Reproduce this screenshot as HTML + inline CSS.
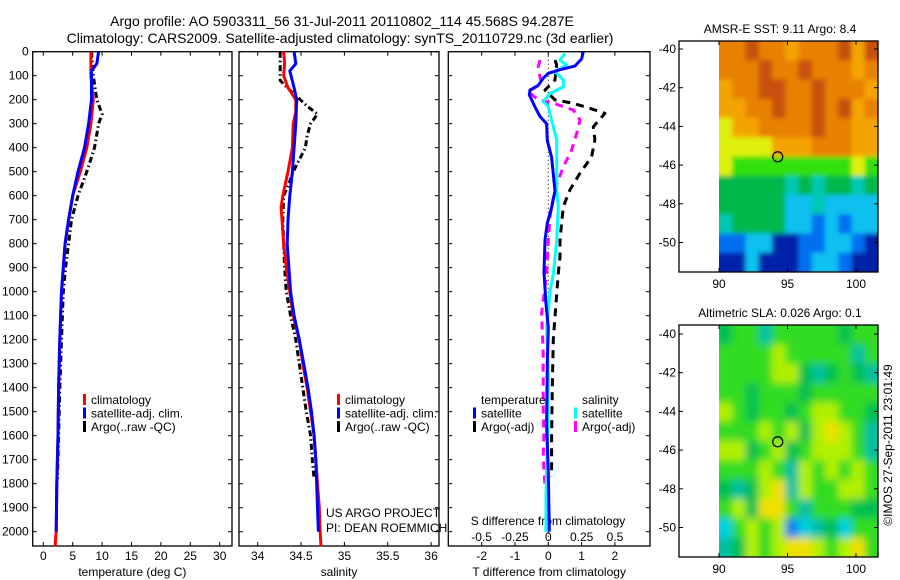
<!DOCTYPE html>
<html><head><meta charset="utf-8"><style>
html,body{margin:0;padding:0;background:#fff;}
svg{display:block;font-family:"Liberation Sans",sans-serif;}
text{fill:#000;}
</style></head><body>
<svg id="fig" width="900" height="580" viewBox="0 0 900 580" xmlns="http://www.w3.org/2000/svg">
<defs>
<filter id="blurS" x="-5%" y="-5%" width="110%" height="110%"><feGaussianBlur stdDeviation="2.5"/></filter>
<filter id="blurL" x="-5%" y="-5%" width="110%" height="110%"><feGaussianBlur stdDeviation="4"/></filter>
<clipPath id="clip-m1"><rect x="719" y="41" width="159" height="231"/></clipPath>
<clipPath id="clip-m2"><rect x="719" y="325" width="159" height="232"/></clipPath>
</defs>
<text x="342" y="26" font-size="14" text-anchor="middle">Argo profile: AO 5903311_56 31-Jul-2011 20110802_114 45.568S 94.287E</text>
<text x="340" y="43" font-size="14" text-anchor="middle">Climatology: CARS2009. Satellite-adjusted climatology: synTS_20110729.nc (3d earlier)</text>
<g id="g1"></g>
<g id="g2"></g>
<g id="g3"></g>
<g id="m1"></g>
<g id="m2"></g>
<text transform="translate(892,445) rotate(-90)" font-size="12" text-anchor="middle">©IMOS 27-Sep-2011 23:01:49</text>
</svg>
<script>
// ---- data ----
const tempClimDepth = [0,100,200,300,400,500,600,700,800,900,1000,1200,1400,1600,1800,2000,2060];
const tempClimVal   = [8.1,8.1,8.5,8.1,7.4,6.3,5.0,4.3,3.7,3.4,3.1,2.8,2.6,2.5,2.3,2.2,2.0];
const tempSatDepth  = [0,50,80,200,300,400,500,600,700,800,900,1000,1200,1400,1600,1800,2000];
const tempSatVal    = [9.4,9.1,8.2,8.2,7.7,7.0,5.9,5.0,4.3,3.7,3.4,3.1,2.8,2.6,2.5,2.3,2.2];
const tempArgoDepth = [0,100,200,260,300,400,500,600,700,800,900,1000,1200,1400,1600,1780];
const tempArgoVal   = [8.2,8.5,9.1,10.0,9.4,8.7,7.4,5.9,4.8,4.3,3.8,3.4,3.1,2.8,2.6,2.4];

const salClimDepth = [0,50,100,150,200,250,300,400,500,600,650,700,800,900,1000,1100,1200,1300,1400,1500,1600,1700,1800,1900,2000,2060];
const salClimVal   = [34.30,34.31,34.30,34.35,34.44,34.44,34.41,34.40,34.35,34.29,34.27,34.28,34.30,34.33,34.37,34.41,34.48,34.52,34.57,34.61,34.65,34.67,34.69,34.71,34.72,34.73];
const salSatDepth  = [0,50,80,150,200,300,400,500,600,700,800,900,1000,1100,1200,1300,1400,1500,1600,1700,1800,1900,2000];
const salSatVal    = [34.42,34.44,34.37,34.42,34.45,34.44,34.42,34.40,34.37,34.35,34.34,34.36,34.38,34.42,34.48,34.53,34.58,34.62,34.65,34.67,34.68,34.69,34.70];
const salArgoDepth = [0,100,120,150,200,230,260,300,350,400,450,500,550,600,700,800,900,1000,1100,1200,1300,1400,1500,1600,1700,1780];
const salArgoVal   = [34.26,34.26,34.26,34.34,34.49,34.58,34.69,34.61,34.57,34.55,34.48,34.41,34.36,34.30,34.29,34.30,34.31,34.33,34.38,34.44,34.48,34.52,34.56,34.61,34.63,34.65];

const dTSatDepth = [0,30,60,75,90,110,140,160,180,230,270,300,370,440,510,580,650,715,785,920,1050,1150,1300,1550,1750,2000];
const dTSatVal   = [1.05,1.0,0.8,0.35,0.0,-0.15,-0.3,-0.55,-0.57,-0.4,-0.25,-0.05,-0.03,0.1,0.15,0.2,0.1,-0.03,-0.1,-0.13,-0.07,0.0,-0.03,-0.05,0.0,0.03];
const dSSatDepth = [7,35,55,83,118,146,174,208,229,285,368,507,576,646,785,924,1000,1150,1350,1600,1850,2000];
const dSSatVal   = [0.125,0.088,0.138,0.05,0.113,0.113,0.013,-0.038,0.0,0.025,0.063,0.063,0.063,0.075,0.063,0.038,0.013,-0.012,0.0,-0.005,-0.017,-0.017];
const dTArgoDepth = [35,55,118,160,201,215,236,257,313,368,438,507,576,646,715,785,854,924,1050,1200,1400,1600,1770];
const dTArgoVal   = [0.2,0.25,0.2,-0.1,0.2,0.75,1.25,1.7,1.35,1.4,1.3,0.95,0.65,0.45,0.4,0.35,0.35,0.3,0.23,0.15,0.12,0.1,0.1];
const dSArgoDepth = [35,63,104,132,167,201,215,243,285,340,410,479,535,604,688,785,924,979,1090,1257,1465,1604,1688,1813];
const dSArgoVal   = [-0.063,-0.075,-0.063,-0.05,-0.15,-0.075,0.038,0.188,0.238,0.213,0.175,0.113,0.075,0.038,0.013,0.0,-0.013,-0.025,-0.05,-0.038,-0.038,-0.033,-0.038,-0.025];

const tempTicks = [0,5,10,15,20,25,30];
const salTicks = [34,34.5,35,35.5,36];
const dTTicks = [-2,-1,0,1,2];
const dSTicks = [-0.5,-0.25,0,0.25,0.5];
const depthTicks = [0,100,200,300,400,500,600,700,800,900,1000,1100,1200,1300,1400,1500,1600,1700,1800,1900,2000];
const latTicks = [-40,-42,-44,-46,-48,-50];
const lonTicks = [90,95,100];
const argoLon = 94.287, argoLat = -45.568;

const sstRows = [
"OODOOLOOODLD","OOODOODOOOLO","LOODDOODOOOL","LLOODOODODLO","YLLOOOODOOLL",
"YYYYLLLOOOLL","YGGGGGGGGGYG","gggggTgTggTg","gggggCCTCCCC","TggggCCBCBCC","BBCCNNBBCCBN","NNCNNNBCCBNN"];
const slaRows = [
"gGGTGGGGGgGG","GGGGYGGGGGTG","GGGGYYgTgGgT","GGgGGGgGGGGG","YGgGGgGYYGGg","GGGYGYgYOYGT",
"YYgGYgGYYYGT","GGGYGTYGYGYG","gTgYOTYGGYYG","GYgOOGTGGGgg","CGYGYBCTgCGG","TgYGYOOYGYOG"];

// ---- helpers ----
const NS="http://www.w3.org/2000/svg";
function mk(parent,tag,attrs){const e=document.createElementNS(NS,tag);for(const k in attrs)e.setAttribute(k,attrs[k]);parent.appendChild(e);return e;}
const yD = d => 51.7 + 0.24*d;
const PTOP=51.7, PBOT=546;

function panel(g,x0,x1,xs,ticks,fmt,showDepth,labelY,bottomLabel){
  const r=mk(g,'rect',{x:x0,y:PTOP,width:x1-x0,height:PBOT-PTOP,fill:'none',stroke:'#000','stroke-width':1.3});
  
  
  depthTicks.forEach(d=>{
    const y=yD(d);
    mk(g,'line',{x1:x0,x2:x0+4,y1:y,y2:y,stroke:'#000'});
    mk(g,'line',{x1:x1-4,x2:x1,y1:y,y2:y,stroke:'#000'});
    if(showDepth){const t=mk(g,'text',{x:x0-4,y:y+4,'font-size':12,'text-anchor':'end'});t.textContent=d;
      
      }
  });
  ticks.forEach(v=>{
    const x=xs(v);
    mk(g,'line',{x1:x,x2:x,y1:PBOT,y2:PBOT-4,stroke:'#000'});
    mk(g,'line',{x1:x,x2:x,y1:PTOP,y2:PTOP+4,stroke:'#000'});
    const t=mk(g,'text',{x:x,y:labelY,'font-size':12,'text-anchor':'middle'});t.textContent=fmt(v);
    
    
  });
  const t=mk(g,'text',{x:(x0+x1)/2,y:576,'font-size':12,'text-anchor':'middle'});t.textContent=bottomLabel;
  
  
}
function line(g,xs,depths,vals,color,dash,w,name){
  const pts=depths.map((d,i)=>xs(vals[i]).toFixed(1)+','+yD(d).toFixed(1)).join(' ');
  const p=mk(g,'polyline',{points:pts,fill:'none',stroke:color,'stroke-width':w||3,'stroke-dasharray':dash||'none','stroke-linejoin':'round'});
  
  
}
function legendEntry(g,x,y,color,label,name){
  mk(g,'rect',{x:x,y:y-6,width:3,height:11,fill:color});
  const t=mk(g,'text',{x:x+8,y:y+4,'font-size':12});t.textContent=label;
  
  
}

// Panel 1
const g1=document.getElementById('g1');
const xT=v=>43.3+5.88*v;
panel(g1,32.7,232,xT,tempTicks,v=>v,true,560,'temperature (deg C)');
line(g1,xT,tempArgoDepth,tempArgoVal,'#000','6,3,1.5,3',3,'temp-argo-line');
line(g1,xT,tempClimDepth,tempClimVal,'#ff0000',null,3,'temp-climatology-line');
line(g1,xT,tempSatDepth,tempSatVal,'#0000ff',null,3,'temp-satellite-line');
legendEntry(g1,83,400,'#ff0000','climatology','legend-climatology');
legendEntry(g1,83,413.5,'#0000ff','satellite-adj. clim.','legend-satellite');
legendEntry(g1,83,427,'#000','Argo(..raw -QC)','legend-argo');

// Panel 2
const g2=document.getElementById('g2');
const xS=v=>257.7+86.7*(v-34);
panel(g2,239,439,xS,salTicks,v=>v,false,560,'salinity');
line(g2,xS,salArgoDepth,salArgoVal,'#000','6,3,1.5,3',3,'sal-argo-line');
line(g2,xS,salClimDepth,salClimVal,'#ff0000',null,3,'sal-climatology-line');
line(g2,xS,salSatDepth,salSatVal,'#0000ff',null,3,'sal-satellite-line');
legendEntry(g2,337,400,'#ff0000','climatology','legend-climatology-2');
legendEntry(g2,337,413.5,'#0000ff','satellite-adj. clim.','legend-satellite-2');
legendEntry(g2,337,427,'#000','Argo(..raw -QC)','legend-argo-2');
[['US ARGO PROJECT',517],['PI: DEAN ROEMMICH',532]].forEach(([s,y])=>{
  const t=mk(g2,'text',{x:326,y:y,'font-size':12});t.textContent=s;
  
  });

// Panel 3
const g3=document.getElementById('g3');
const xdT=v=>548.3+33.3*v;
const xdS=v=>548.3+133.3*v;
panel(g3,448.3,650,xdT,dTTicks,v=>v,false,560,'T difference from climatology');
mk(g3,'line',{x1:548.3,x2:548.3,y1:PTOP,y2:PBOT,stroke:'#000','stroke-dasharray':'1,3'});
dSTicks.forEach(v=>{const t=mk(g3,'text',{x:xdS(v),y:541,'font-size':12,'text-anchor':'middle'});t.textContent=v;
  
  });
{const t=mk(g3,'text',{x:548,y:525,'font-size':12,'text-anchor':'middle'});t.textContent='S difference from climatology';
 
 }
line(g3,xdT,dTArgoDepth,dTArgoVal,'#000','8,6',3,'dT-argo-line');
line(g3,xdS,dSArgoDepth,dSArgoVal,'#ff00ff','8,6',3,'dS-argo-line');
line(g3,xdS,dSSatDepth,dSSatVal,'#00ffff',null,3,'dS-satellite-line');
line(g3,xdT,dTSatDepth,dTSatVal,'#0000ff',null,3,'dT-satellite-line');
{const t=mk(g3,'text',{x:481,y:404,'font-size':12});t.textContent='temperature';
 
 
 const s=mk(g3,'text',{x:582,y:404,'font-size':12});s.textContent='salinity';
 
 }
legendEntry(g3,473,413.5,'#0000ff','satellite','legend-t-satellite');
legendEntry(g3,473,427,'#000','Argo(-adj)','legend-t-argo');
legendEntry(g3,574,413.5,'#00ffff','satellite','legend-s-satellite');
legendEntry(g3,574,427,'#ff00ff','Argo(-adj)','legend-s-argo');

// Maps
const sstColors={D:'#c85008',O:'#e88000',L:'#f4a400',Y:'#e0f010',G:'#30e010',g:'#00b848',T:'#00c8b0',C:'#10c0f0',B:'#0070f0',N:'#0020a8'};
const slaColors={g:'#00c050',G:'#30dc20',T:'#00c0a0',Y:'#b0f000',O:'#f0e000',C:'#00d0e0',B:'#1080f0'};
function map(id,top,bottom,lat40,title,rows,colors,name,filt){
  const g=document.getElementById(id);
  const x0=679,x1=878,dx0=719;
  const lonX=v=>719+(v-90)*13.7;
  const latY=v=>lat40+(-40-v)*19.35;
  const cw=(x1-dx0)/12, ch=(bottom-top)/12;
  const clipG=mk(g,'g',{'clip-path':'url(#clip-'+id+')'});
  const cells=mk(clipG,'g',{filter:'url(#'+filt+')'});
  rows.forEach((row,r)=>{[...row].forEach((c,k)=>{
    const cell=mk(cells,'rect',{x:dx0+k*cw-(k==0?6:0),y:top+r*ch-(r==0?6:0),width:cw+0.6+(k==0||k==11?6:0),height:ch+0.6+(r==0||r==11?6:0),fill:colors[c]});
    
    
  });});
  const fr=mk(g,'rect',{x:x0,y:top,width:x1-x0,height:bottom-top,fill:'none',stroke:'#000','stroke-width':1.3});
  
  
  latTicks.forEach(v=>{const y=latY(v);
    mk(g,'line',{x1:x0,x2:x0+4,y1:y,y2:y,stroke:'#000'});
    mk(g,'line',{x1:x1-4,x2:x1,y1:y,y2:y,stroke:'#000'});
    const t=mk(g,'text',{x:x0-3,y:y+4,'font-size':12,'text-anchor':'end'});t.textContent=v;
    
    });
  lonTicks.forEach(v=>{const x=lonX(v);
    mk(g,'line',{x1:x,x2:x,y1:bottom,y2:bottom-4,stroke:'#000'});
    mk(g,'line',{x1:x,x2:x,y1:top,y2:top+4,stroke:'#000'});
    const t=mk(g,'text',{x:x,y:bottom+16,'font-size':12,'text-anchor':'middle'});t.textContent=v;
    
    });
  const t=mk(g,'text',{x:780,y:top-8,'font-size':12,'text-anchor':'middle'});t.textContent=title;
  
  
  const c=mk(g,'circle',{cx:lonX(argoLon),cy:latY(argoLat),r:5,fill:'none',stroke:'#000','stroke-width':1.2});
  
  
}
map('m1',41,272,49,'AMSR-E SST: 9.11 Argo: 8.4',sstRows,sstColors,'sst-map','blurS');
map('m2',325,557,334,'Altimetric SLA: 0.026 Argo: 0.1',slaRows,slaColors,'sla-map','blurL');
</script>
</body></html>
